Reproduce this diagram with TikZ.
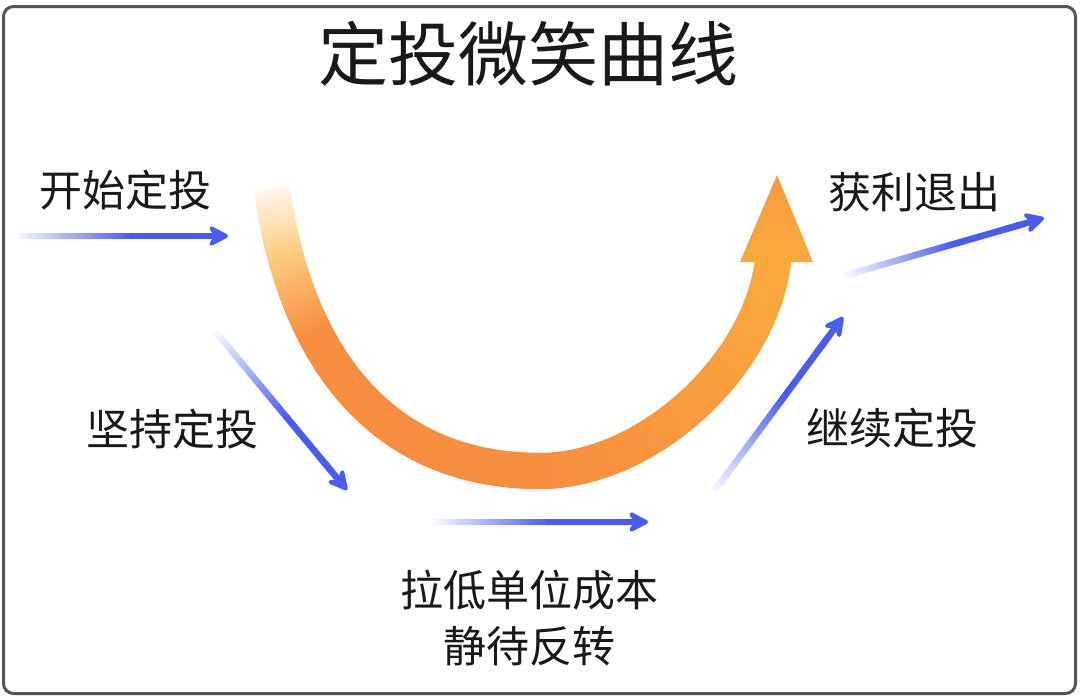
\documentclass[tikz,border=0pt]{standalone}
\usepackage{fontspec}
\newfontfamily\cjk{Noto Sans CJK SC}
\usetikzlibrary{arrows.meta,calc}
\definecolor{bluearr}{RGB}{72,92,240}
\definecolor{oA}{RGB}{247,141,62}
\definecolor{oB}{RGB}{249,170,60}
\definecolor{oC}{RGB}{252,205,130}
\definecolor{frameC}{RGB}{85,85,85}
\definecolor{txt}{RGB}{25,25,25}
\tikzset{
  lbl/.style={text=txt, font=\cjk\fontsize{43pt}{50pt}\selectfont, inner sep=0pt},
  ttl/.style={text=txt, font=\cjk\fontsize{70pt}{80pt}\selectfont, inner sep=0pt},
  shaft/.style={line width=6.5pt, line cap=butt},
  bluehead/.style={bluearr, line width=6.5pt, -{Stealth[length=25pt, width=26pt, inset=9pt, round]}},
  band/.style={line width=36pt, line cap=butt, line join=round}
}
\begin{document}
\begin{tikzpicture}[x=1pt,y=-1pt]
\useasboundingbox (0,0) rectangle (1080,699);
\fill[white] (0,0) rectangle (1080,699);
\draw[frameC, line width=3pt, rounded corners=10pt] (3.5,6.5) rectangle (1075.5,693.5);

% title and labels
\node[ttl] (title) at (528,54) {定投微笑曲线};
\node[lbl] (start) at (125,190) {开始定投};
\node[lbl] (keep) at (172,429) {坚持定投};
\node[lbl] (exit) at (914,192) {获利退出};
\node[lbl] (cont) at (892,428) {继续定投};
\node[lbl] (low) at (529,590) {拉低单位成本};
\node[lbl] (wait) at (529,646) {静待反转};

% orange smile curve
\coordinate (c0) at (272,188);
\coordinate (c1) at (292,340);
\coordinate (c2) at (370,471);
\coordinate (c3) at (540,471);
\coordinate (d1) at (650,471);
\coordinate (d2) at (768,360);
\coordinate (d3) at (774,250);
\foreach \i in {0,...,100}{
  \path (c0) .. controls (c1) and (c2) .. (c3) coordinate[pos=\i/100] (P\i);
  \pgfmathtruncatemacro\k{\i+100}
  \path (c3) .. controls (d1) and (d2) .. (d3) coordinate[pos=\i/100] (P\k);
}
\foreach \i in {1,...,199}{
  \pgfmathtruncatemacro\a{\i-1}
  \pgfmathtruncatemacro\b{\i+1}
  \ifnum\i<16
    \pgfmathtruncatemacro\pct{12+88*\i/15}
    \draw[band, oC!\pct!white] (P\a) -- (P\i) -- (P\b);
  \else\ifnum\i<36
    \pgfmathtruncatemacro\pct{100*(\i-15)/20}
    \draw[band, oA!\pct!oC] (P\a) -- (P\i) -- (P\b);
  \else\ifnum\i<101
    \draw[band, oA] (P\a) -- (P\i) -- (P\b);
  \else
    \pgfmathtruncatemacro\pct{100*(\i-100)/100}
    \draw[band, oB!\pct!oA] (P\a) -- (P\i) -- (P\b);
  \fi\fi\fi
}
\coordinate (hl) at (740,262);
\coordinate (hr) at (813,262);
\coordinate (ht) at (777,175);
\shade[top color=oA!55!oB, bottom color=oB] (hl) -- (hr) -- (ht) -- cycle;

% blue fading arrows
\coordinate (t1) at (15,236);   \coordinate (h1) at (228,236);
\coordinate (t2) at (215,331);  \coordinate (h2) at (347,490);
\coordinate (t3) at (432,522);  \coordinate (h3) at (648,522);
\coordinate (t4) at (713,493);  \coordinate (h4) at (843,317);
\coordinate (t5) at (843,276);  \coordinate (h5) at (1044,218);
\foreach \ta/\hb in {t1/h1,t2/h2,t3/h3,t4/h4,t5/h5}{
  \foreach \i in {0,...,52}{
    \pgfmathtruncatemacro\pct{min(100,3+97*\i/32)}
    \draw[shaft, bluearr!\pct!white] ($(\ta)!{\i/60}!(\hb)$) -- ($(\ta)!{(\i+1.3)/60}!(\hb)$);
  }
  \draw[bluehead] ($(\ta)!0.8!(\hb)$) -- (\hb);
}
\end{tikzpicture}
\end{document}
